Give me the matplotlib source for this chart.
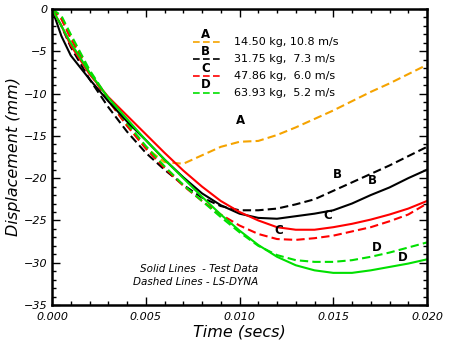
import matplotlib.pyplot as plt
from matplotlib.ticker import MultipleLocator

# time axis (secs)
t = [0, 0.0005, 0.001, 0.002, 0.003, 0.004, 0.005, 0.006, 0.007, 0.008, 0.009,
     0.010, 0.011, 0.012, 0.013, 0.014, 0.015, 0.016, 0.017, 0.018, 0.019, 0.020]

# displacement (mm), solid = test data, dashed = LS-DYNA
a_dyna = [0, -1.0, -3.3, -7.4, -10.8, -13.8, -16.4, -18.1, -18.3, -17.3, -16.3,
          -15.7, -15.6, -14.9, -14.0, -13.0, -12.0, -10.9, -9.8, -8.8, -7.7, -6.6]
b_test = [0, -3.2, -5.5, -8.3, -10.9, -13.3, -15.5, -17.8, -19.9, -21.8, -23.2,
          -24.2, -24.7, -24.8, -24.5, -24.2, -23.8, -23.0, -22.0, -21.1, -20.0, -19.0]
b_dyna = [0, -2.0, -4.5, -8.3, -11.6, -14.5, -17.0, -19.0, -20.8, -22.3, -23.3,
          -23.8, -23.8, -23.6, -23.1, -22.5, -21.5, -20.5, -19.5, -18.5, -17.4, -16.3]
c_test = [0, -2.0, -4.3, -7.7, -10.4, -12.6, -14.8, -17.0, -19.1, -21.0, -22.7,
          -24.0, -25.0, -25.8, -26.1, -26.1, -25.8, -25.4, -24.9, -24.3, -23.6, -22.7]
c_dyna = [0, -1.2, -3.5, -7.5, -10.8, -13.8, -16.5, -18.8, -20.9, -22.7, -24.3,
          -25.6, -26.6, -27.2, -27.3, -27.1, -26.8, -26.3, -25.8, -25.1, -24.3, -23.0]
d_test = [0, -2.0, -4.0, -7.5, -10.5, -13.0, -15.5, -17.8, -20.0, -22.2, -24.3,
          -26.2, -27.9, -29.3, -30.3, -30.9, -31.2, -31.2, -30.9, -30.5, -30.1, -29.6]
d_dyna = [0, -0.8, -3.0, -7.2, -10.6, -13.5, -16.2, -18.6, -20.8, -22.7, -24.6,
          -26.4, -28.0, -29.1, -29.7, -29.9, -29.9, -29.7, -29.3, -28.8, -28.2, -27.6]

letters = ['A', 'B', 'C', 'D']
cases = ['14.50 kg, 10.8 m/s', '31.75 kg,  7.3 m/s', '47.86 kg,  6.0 m/s', '63.93 kg,  5.2 m/s']
colors = ['#f5a300', 'black', '#ff0000', '#00e000']

fig = plt.figure(figsize=(4.5, 3.54), dpi=100)
ax = fig.add_axes([0.1156, 0.1384, 0.8333, 0.8362])

dash = (0, (4, 2))
ax.plot(t, a_dyna, color=colors[0], lw=1.5, ls=dash)
ax.plot(t, b_dyna, color=colors[1], lw=1.5, ls=dash)
ax.plot(t, c_dyna, color=colors[2], lw=1.5, ls=dash)
ax.plot(t, d_dyna, color=colors[3], lw=1.5, ls=dash)
ax.plot(t, b_test, color=colors[1], lw=1.5)
ax.plot(t, c_test, color=colors[2], lw=1.5)
ax.plot(t, d_test, color=colors[3], lw=1.5)

ax.set_xlim(0, 0.020)
ax.set_ylim(-35, 0)
ax.xaxis.set_major_locator(MultipleLocator(0.005))
ax.xaxis.set_minor_locator(MultipleLocator(0.001))
ax.yaxis.set_major_locator(MultipleLocator(5))
ax.yaxis.set_minor_locator(MultipleLocator(1))
ax.xaxis.set_major_formatter(plt.FuncFormatter(lambda v, p: '%.3f' % v))
ax.tick_params(which='both', direction='in', top=True, right=True)
ax.tick_params(which='major', length=6, width=1)
ax.tick_params(which='minor', length=3, width=1)
ax.tick_params(axis='x', pad=5)
for lab in ax.get_xticklabels() + ax.get_yticklabels():
    lab.set_fontstyle('italic')
    lab.set_fontsize(8)
for s in ax.spines.values():
    s.set_linewidth(1.8)

ax.set_xlabel('Time (secs)', fontsize=11.5, style='italic', labelpad=2)
ax.set_ylabel('Displacement (mm)', fontsize=11.5, style='italic', labelpad=2)

# legend block
for i in range(4):
    y = -3.9 - 2.0 * i
    ax.plot([0.0075, 0.0091], [y, y], color=colors[i], lw=1.2, ls=dash)
    ax.text(0.0082, y + 0.15, letters[i], fontsize=8.5, fontweight='bold',
            ha='center', va='bottom')
    ax.text(0.0097, y, cases[i], fontsize=8, va='center')

# curve labels
labels = [('A', 0.01005, -13.2), ('B', 0.0152, -19.6), ('B', 0.0171, -20.3),
          ('C', 0.0147, -24.4), ('C', 0.0121, -26.2), ('D', 0.0173, -28.2),
          ('D', 0.0187, -29.4)]
for s, x, y in labels:
    ax.text(x, y, s, fontsize=8.5, fontweight='bold', ha='center', va='center')

ax.text(0.0110, -31.1, 'Solid Lines  - Test Data', fontsize=7.5, style='italic', ha='right')
ax.text(0.0110, -32.6, 'Dashed Lines - LS-DYNA', fontsize=7.5, style='italic', ha='right')

fig.savefig('out.png', dpi=100)
